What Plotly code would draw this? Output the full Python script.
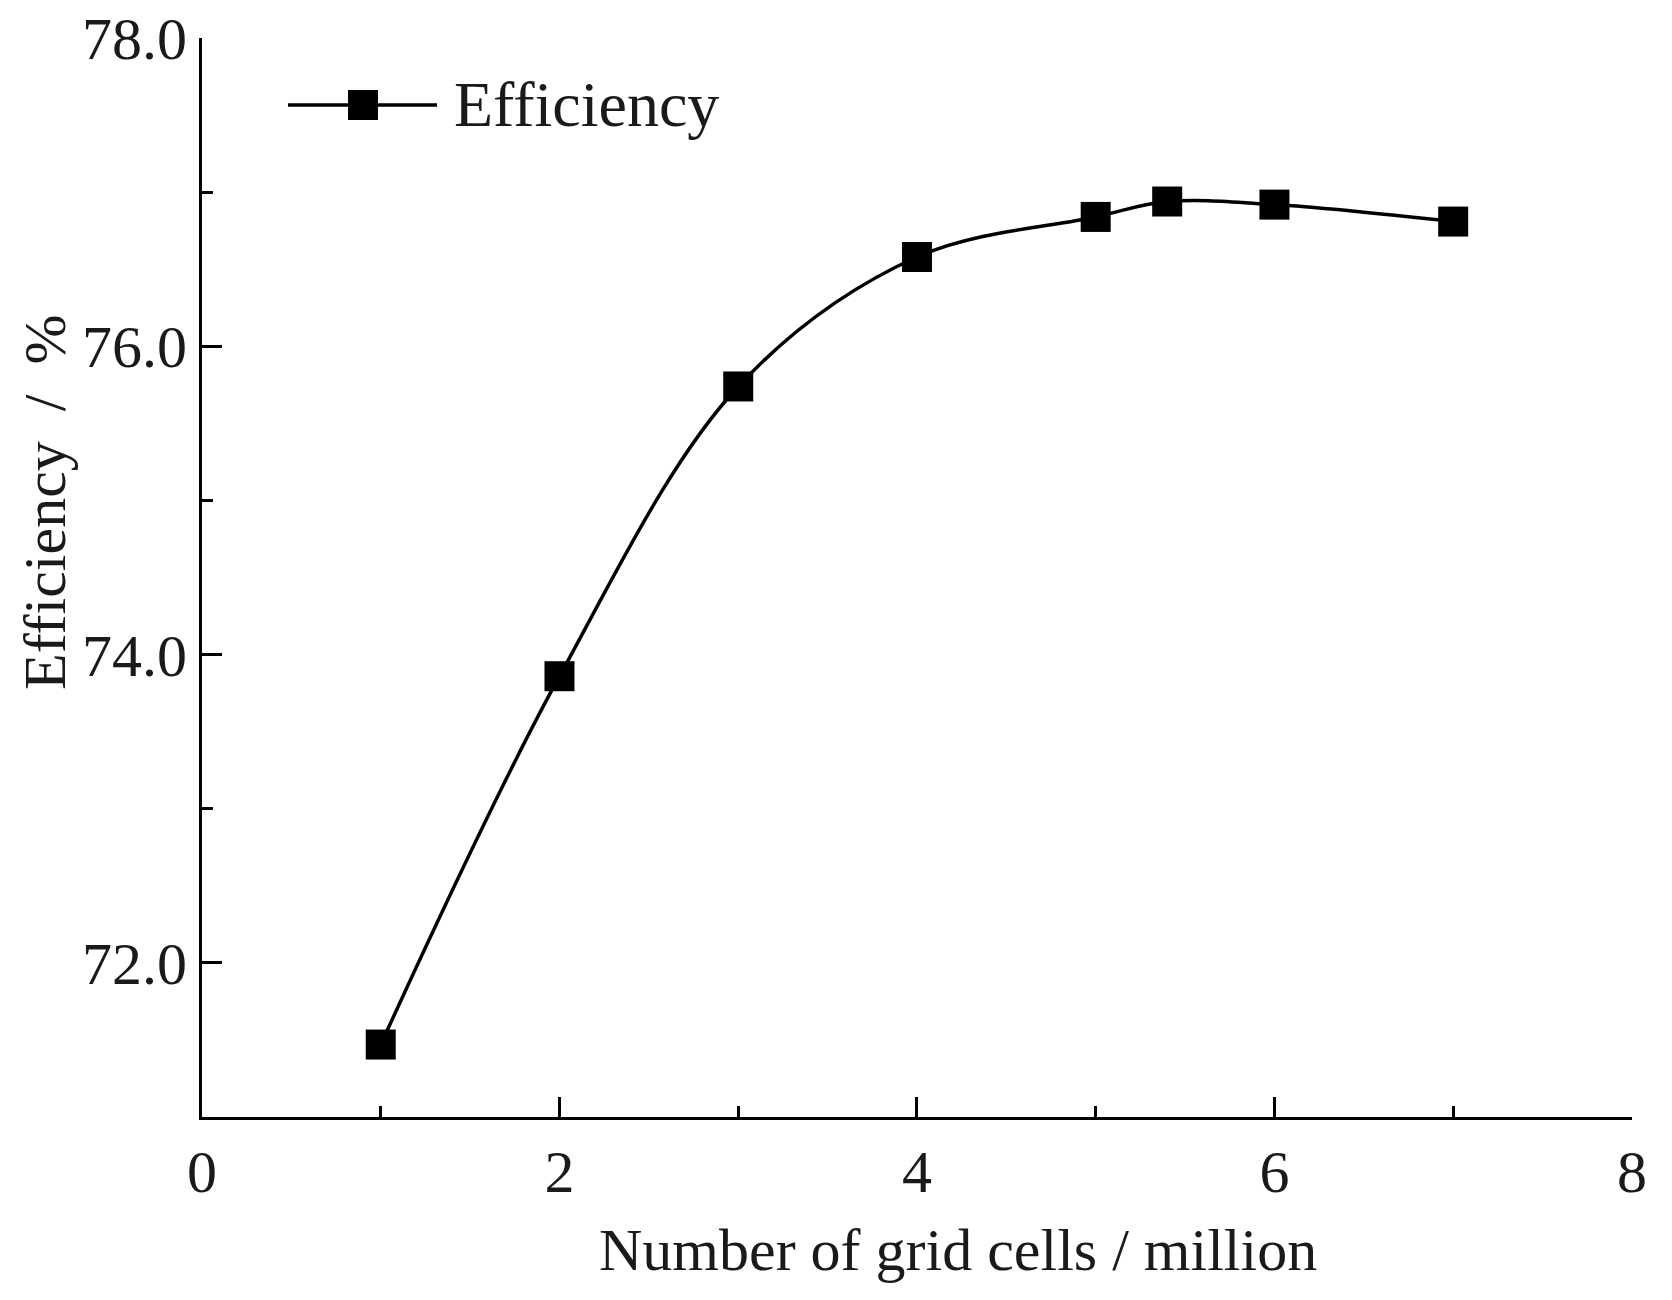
import plotly.graph_objects as go

# Data
grid_cells_million = [1.0, 2.0, 3.0, 4.0, 5.0, 5.4, 6.0, 7.0]
efficiency_pct = [71.47, 73.86, 75.74, 76.58, 76.84, 76.94, 76.92, 76.81]

x_tick_vals = [0, 2, 4, 6, 8]
x_tick_text = ["0", "2", "4", "6", "8"]
y_tick_vals = [72, 74, 76, 78]
y_tick_text = ["72.0", "74.0", "76.0", "78.0"]

series_name = "Efficiency"
x_title = "Number of grid cells / million"
y_title = "Efficiency  /  %"

# Page body margin is removed (see post_script), so figure pixels == page pixels
W, H = 1672, 1300
PLOT_LEFT, PLOT_RIGHT, PLOT_TOP, PLOT_BOTTOM = 202, 1632, 38, 1117
L = PLOT_LEFT
R = W - PLOT_RIGHT
T = PLOT_TOP
B = H - PLOT_BOTTOM
PW = W - L - R
PH = H - T - B

def px_to_paper_x(px):
    return (px - PLOT_LEFT) / PW

def px_to_paper_y(py):
    return (PLOT_BOTTOM - py) / PH

FONT = "Liberation Serif, Times New Roman, serif"
TXT = "#1a1a1a"

fig = go.Figure()
fig.add_trace(go.Scatter(
    x=grid_cells_million,
    y=efficiency_pct,
    mode="lines+markers",
    name=series_name,
    line=dict(color="black", width=3.5, shape="spline", smoothing=1.0),
    marker=dict(symbol="square", size=30, color="black"),
    showlegend=False,
    cliponaxis=False,
))

axis_common = dict(
    showgrid=False,
    zeroline=False,
    showline=True,
    linecolor="black",
    linewidth=3,
    ticks="inside",
    ticklen=20,
    tickwidth=3,
    tickcolor="black",
    tickfont=dict(family=FONT, size=60, color=TXT),
    ticklabeloverflow="allow",
    automargin=False,
    mirror=False,
)

fig.update_xaxes(
    range=[0, 8.0005],
    tickvals=x_tick_vals,
    ticktext=x_tick_text,
    minor=dict(dtick=1, tick0=0, ticks="inside", ticklen=11, tickwidth=3, tickcolor="black", showgrid=False),
    **axis_common,
)
fig.update_yaxes(
    range=[71, 78.001],
    tickvals=y_tick_vals,
    ticktext=y_tick_text,
    minor=dict(dtick=1, tick0=71, ticks="inside", ticklen=11, tickwidth=3, tickcolor="black", showgrid=False),
    **axis_common,
)

# Custom legend (long line with square marker) and axis titles
legend_y = px_to_paper_y(105)
shapes = [
    dict(type="line", xref="paper", yref="paper",
         x0=px_to_paper_x(288), x1=px_to_paper_x(437), y0=legend_y, y1=legend_y,
         line=dict(color="black", width=3.5)),
    dict(type="rect", xref="paper", yref="paper",
         x0=px_to_paper_x(363 - 15), x1=px_to_paper_x(363 + 15),
         y0=px_to_paper_y(105 + 15), y1=px_to_paper_y(105 - 15),
         fillcolor="black", line=dict(color="black", width=0)),
]

annotations = [
    dict(text=series_name, xref="paper", yref="paper",
         x=px_to_paper_x(452), y=legend_y, xanchor="left", yanchor="middle",
         showarrow=False, font=dict(family=FONT, size=64, color=TXT)),
    dict(text=x_title, xref="paper", yref="paper",
         x=px_to_paper_x(958), y=px_to_paper_y(1250), xanchor="center", yanchor="middle",
         showarrow=False, font=dict(family=FONT, size=60, color=TXT)),
    dict(text=y_title, xref="paper", yref="paper", textangle=-90,
         x=px_to_paper_x(45), y=px_to_paper_y(503), xanchor="center", yanchor="middle",
         showarrow=False, font=dict(family=FONT, size=60, color=TXT)),
]

fig.update_layout(
    width=W, height=H,
    margin=dict(l=L, r=R, t=T, b=B, pad=0, autoexpand=False),
    paper_bgcolor="white",
    plot_bgcolor="white",
    shapes=shapes,
    annotations=annotations,
    showlegend=False,
)

fig.write_html(
    "out.html",
    config={"displayModeBar": False, "staticPlot": True},
    post_script="document.body.style.margin='0';document.body.style.overflow='hidden';",
)
